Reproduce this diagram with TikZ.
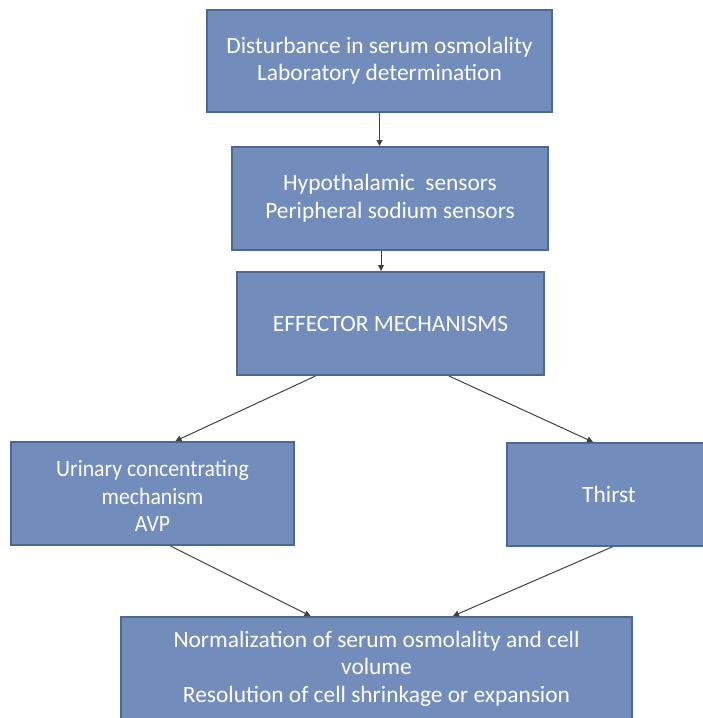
\documentclass[tikz,border=0pt]{standalone}
\usepackage{fontspec}
\setmainfont{Carlito}
\usetikzlibrary{arrows.meta,calc}
\definecolor{boxfill}{RGB}{114,140,187}
\definecolor{boxline}{RGB}{78,104,150}
\definecolor{arrowcol}{RGB}{64,64,64}
\tikzset{
  fbox/.style={draw=boxline, fill=boxfill, line width=2pt, inner sep=0pt,
    text=white, align=center, font=\fontsize{23.4}{27.5}\selectfont},
  conn/.style={draw=arrowcol, line width=1pt, -{Triangle[length=6pt,width=6pt]}}
}
\begin{document}
\begin{tikzpicture}[x=1pt,y=-1pt]
\useasboundingbox (0,0) rectangle (702,718);
\node[fbox, minimum width=345, minimum height=102] (b1) at (379.5,61)
  {Disturbance in serum osmolality\\Laboratory determination};
\node[fbox, minimum width=316, minimum height=103] (b2) at (390,198.5)
  {Hypothalamic\ \ sensors\\Peripheral sodium sensors};
\node[fbox, minimum width=307, minimum height=103] (b3) at (390.5,323.5)
  {EFFECTOR MECHANISMS};
\node[fbox, minimum width=283, minimum height=103] (b4) at (152.5,493.5)
  {\rule{0pt}{21pt}\scalebox{0.93}[1]{Urinary concentrating}\\\scalebox{0.93}[1]{mechanism}\\\scalebox{0.93}[1]{AVP}};
\node[fbox, minimum width=204, minimum height=103] (b5) at (609,494.5)
  {Thirst};
\node[fbox, minimum width=511, minimum height=103] (b6) at (376.5,668.5)
  {Normalization of serum osmolality and cell\\volume\\Resolution of cell shrinkage or expansion};
\draw[conn] (b1.south) -- (b1.south |- b2.north);
\draw[conn] ([xshift=-9]b2.south) -- ([xshift=-9]b2.south |- b3.north);
\draw[conn] ([xshift=-75]b3.south) -- ([xshift=23]b4.north);
\draw[conn] ([xshift=58.5]b3.south) -- ([xshift=-16]b5.north);
\draw[conn] ([xshift=18]b4.south) -- ([xshift=-66]b6.north);
\draw[conn] ([xshift=3]b5.south) -- ([xshift=76.5]b6.north);
\end{tikzpicture}
\end{document}
